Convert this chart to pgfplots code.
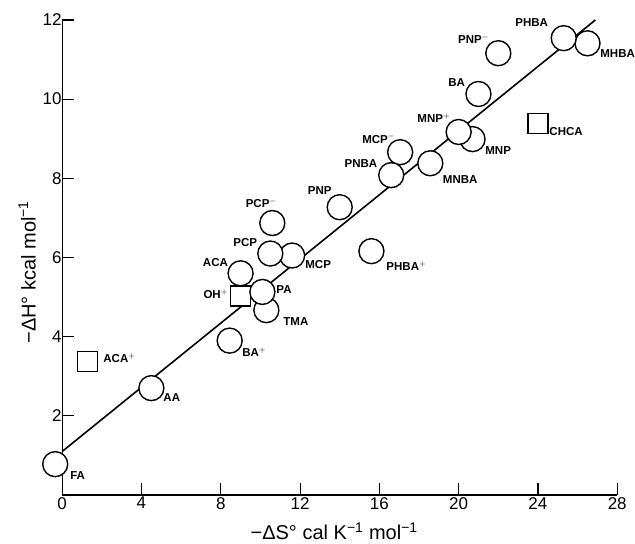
\documentclass[border=0pt]{standalone}
\usepackage{fontspec}
\setmainfont{Liberation Sans}
\usepackage{pgfplots}
\pgfplotsset{compat=1.18}

\begin{document}
\begin{tikzpicture}
\begin{axis}[
  scale only axis,
  width=555pt, height=475pt,
  xmin=0, xmax=28, ymin=0, ymax=12,
  axis x line=bottom, axis y line=left,
  axis line style={-, line width=1.3pt},
  xtick={0,4,...,28}, ytick={2,4,...,12},
  tick align=inside, major tick length=12pt,
  tick style={line width=1.1pt, black},
  /pgf/number format/assume math mode=true,
  ticklabel style={font=\fontsize{17}{17}\selectfont},
  yticklabel style={inner xsep=0.5pt},
  xticklabel style={inner ysep=2pt},
  xlabel={−ΔS° cal K\textsuperscript{−1} mol\textsuperscript{−1}},
  ylabel={−ΔH° kcal mol\textsuperscript{−1}},
  label style={font=\fontsize{20}{20}\selectfont},
  xlabel style={at={(axis description cs:0.49,-0.076)}, anchor=center},
  ylabel style={at={(axis description cs:-0.063,0.469)}, anchor=center},
  clip=false,
]
% page extent matching the reference
\path (axis description cs:-0.112,-0.097) rectangle (axis description cs:1.032,1.042);

% regression line
\addplot[black, line width=1.6pt, mark=none] coordinates {(0,1.1) (26.9,12)};

% circles drawn below the squares
\addplot[only marks, mark=*, mark size=12.5pt,
  mark options={fill=white, draw=black, line width=1.4pt}] table {
x y
-0.35 0.78
4.5 2.7
8.45 3.9
9.0 5.6
};

% squares
\addplot[only marks, mark=square*, mark size=10pt,
  mark options={fill=white, draw=black, line width=1.4pt}] table {
x y
1.27 3.38
9.0 5.03
24.0 9.39
};

% remaining circles
\addplot[only marks, mark=*, mark size=12.5pt,
  mark options={fill=white, draw=black, line width=1.4pt}] table {
x y
10.3 4.67
10.1 5.13
11.6 6.05
10.5 6.1
10.6 6.87
14.0 7.27
15.6 6.16
17.05 8.66
16.6 8.08
18.57 8.38
20.7 8.99
20.0 9.17
21.0 10.13
22.0 11.16
26.5 11.41
25.3 11.54
};

% labels
\addplot[draw=none, mark=none, nodes near coords,
  point meta=explicit symbolic,
  visualization depends on={value \thisrow{anc} \as \anc},
  every node near coord/.style={anchor=\anc, inner sep=0pt,
    font=\bfseries\fontsize{11.5}{11.5}\selectfont}] table[meta=name] {
x y name anc
0.4 0.5 FA west
5.1 2.45 AA west
9.08 3.61 BA$^{+}$ west
2.07 3.46 ACA$^{+}$ west
8.37 5.08 OH$^{+}$ east
10.8 5.18 PA west
11.15 4.39 TMA west
8.37 5.86 ACA east
9.84 6.39 PCP east
10.04 7.37 PCP$^{-}$ center
12.26 5.81 MCP west
13.6 7.68 PNP east
16.35 5.78 PHBA$^{+}$ west
15.9 8.38 PNBA east
16.8 9.0 MCP$^{-}$ east
19.2 7.98 MNBA west
19.58 9.52 MNP$^{+}$ east
21.34 8.71 MNP west
20.33 10.43 BA east
24.57 9.17 CHCA west
21.54 11.52 PNP$^{-}$ east
24.52 11.94 PHBA east
27.14 11.14 MHBA west
};
\end{axis}
\end{tikzpicture}
\end{document}
